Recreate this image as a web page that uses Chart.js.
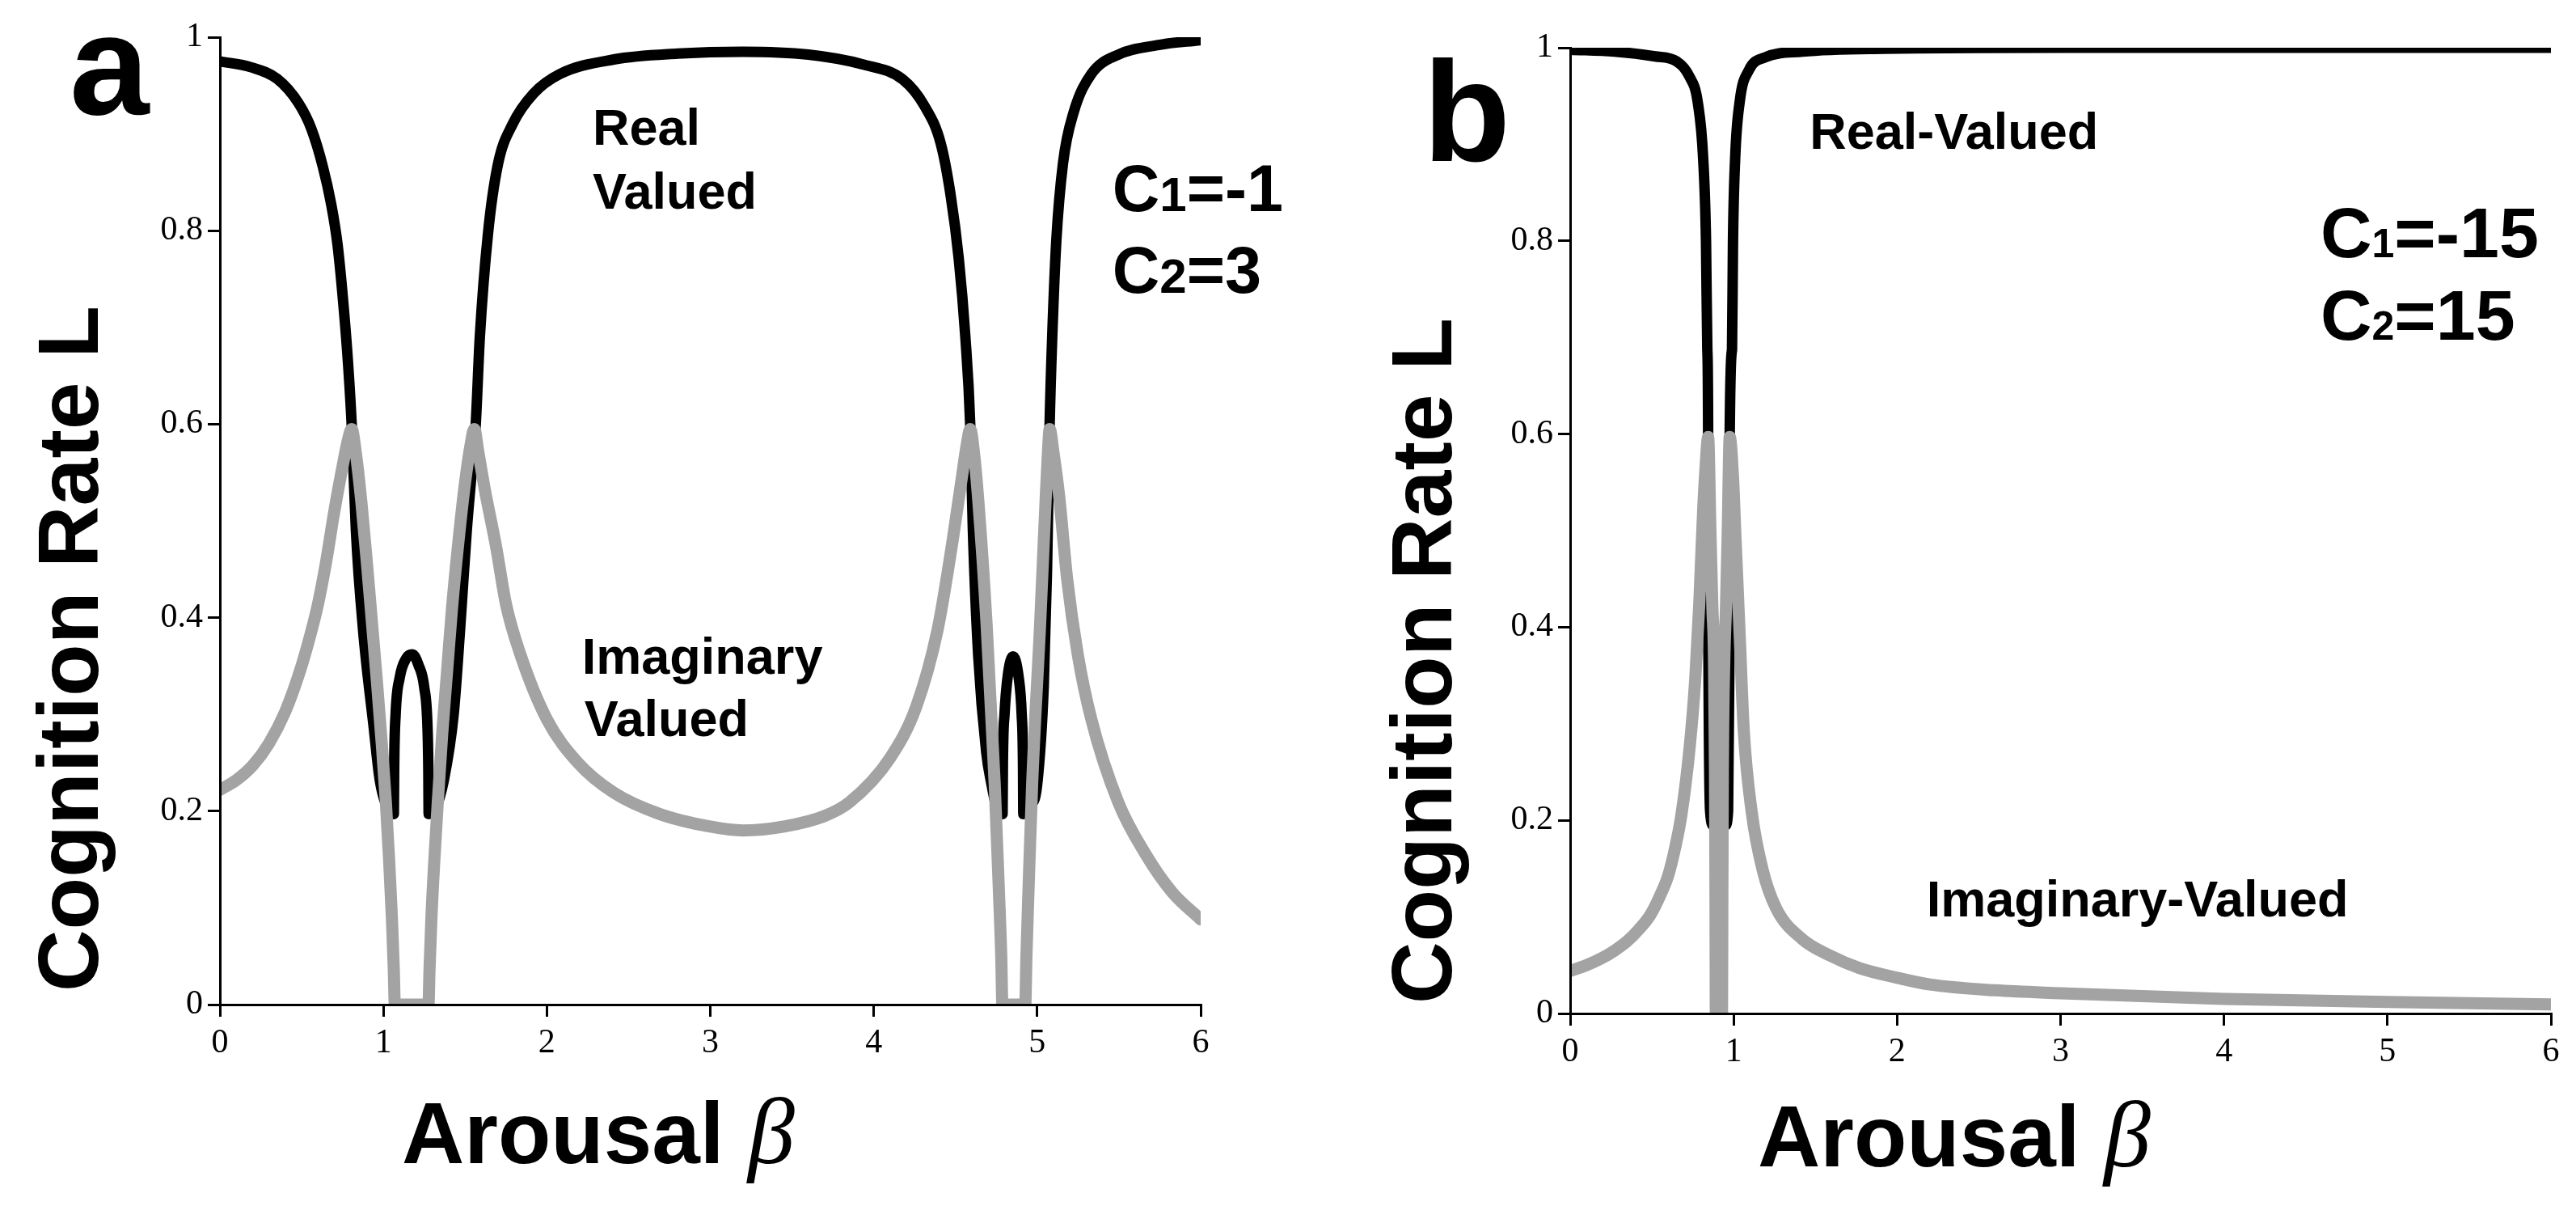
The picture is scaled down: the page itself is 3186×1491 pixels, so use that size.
<!DOCTYPE html>
<html>
<head>
<meta charset="utf-8">
<script src="https://cdn.jsdelivr.net/npm/chart.js@4.4.0/dist/chart.umd.min.js"></script>
<style>
  html, body { margin: 0; padding: 0; background: #fff; }
  body { width: 3186px; height: 1491px; position: relative; overflow: hidden; }
  canvas { position: absolute; top: 0; }
  #panelA { left: 0; }
  #panelB { left: 1593px; }
</style>
</head>
<body>
<canvas id="panelA" width="1593" height="1491"></canvas>
<canvas id="panelB" width="1593" height="1491"></canvas>
<script>
// tick labels
const xTickLabels = ['0', '1', '2', '3', '4', '5', '6'];
const yTickLabels = ['0', '0.2', '0.4', '0.6', '0.8', '1'];

// panel a, C1=-1, C2=3
const betaRealA = [0, 0.19, 0.35, 0.48, 0.56, 0.63, 0.68, 0.72, 0.76, 0.785, 0.806,
  0.832, 0.876, 0.94, 0.978, 1.02, 1.064,
  1.066, 1.075, 1.10, 1.14, 1.177, 1.215, 1.25, 1.27, 1.275, 1.277,
  1.32, 1.37, 1.43, 1.47, 1.51, 1.54, 1.565, 1.59, 1.64, 1.70, 1.79, 1.92, 2.08, 2.41,
  2.8, 3.2, 3.6, 3.93, 4.18, 4.31, 4.41, 4.47, 4.52, 4.56, 4.59,
  4.606, 4.639, 4.688, 4.72, 4.75, 4.788,
  4.79, 4.80, 4.82, 4.852, 4.885, 4.905, 4.913, 4.915,
  4.96, 5.0, 5.04, 5.06, 5.076, 5.092, 5.117, 5.158, 5.224, 5.331, 5.496, 5.743, 6.0];
const realA = [0.975, 0.969, 0.957, 0.932, 0.905, 0.866, 0.828, 0.785, 0.715, 0.66, 0.6,
  0.49, 0.387, 0.288, 0.232, 0.205, 0.197,
  0.245, 0.300, 0.338, 0.358, 0.362, 0.351, 0.328, 0.286, 0.244, 0.197,
  0.203, 0.232, 0.30, 0.39, 0.49, 0.55, 0.6, 0.69, 0.797, 0.868, 0.91, 0.942, 0.962, 0.977,
  0.983, 0.985, 0.982, 0.972, 0.956, 0.929, 0.890, 0.837, 0.771, 0.691, 0.6,
  0.493, 0.361, 0.261, 0.228, 0.205, 0.197,
  0.25, 0.30, 0.34, 0.36, 0.34, 0.30, 0.25, 0.197,
  0.205, 0.228, 0.33, 0.45, 0.6, 0.691, 0.79, 0.87, 0.923, 0.962, 0.982, 0.992, 0.997];

const betaImagA = [0, 0.1, 0.2, 0.3, 0.4, 0.49, 0.55, 0.60, 0.65, 0.70, 0.75, 0.785, 0.806,
  0.83, 0.865, 0.90, 0.93, 0.96, 0.99, 1.015, 1.035, 1.052, 1.064, 1.07,
  1.276, 1.282, 1.294, 1.312, 1.333, 1.36, 1.39, 1.42, 1.46, 1.50, 1.535, 1.556,
  1.58, 1.62, 1.69, 1.75, 1.84, 2.0, 2.19, 2.41, 2.69, 3.0, 3.2, 3.45, 3.70, 3.85,
  4.1, 4.26, 4.39, 4.47, 4.54, 4.57, 4.59,
  4.612, 4.64, 4.69, 4.74, 4.765, 4.78, 4.787,
  4.927, 4.934, 4.947, 4.969, 5.018, 5.051, 5.066, 5.076,
  5.10, 5.134, 5.183, 5.249, 5.331, 5.496, 5.661, 5.826, 6.0];
const imagA = [0.222, 0.232, 0.247, 0.270, 0.303, 0.345, 0.380, 0.414, 0.458, 0.510, 0.556, 0.585, 0.595,
  0.572, 0.52, 0.455, 0.395, 0.335, 0.27, 0.21, 0.15, 0.09, 0.035, 0,
  0, 0.035, 0.09, 0.15, 0.21, 0.28, 0.345, 0.41, 0.48, 0.54, 0.58, 0.595,
  0.572, 0.533, 0.473, 0.414, 0.361, 0.295, 0.250, 0.219, 0.197, 0.184, 0.180, 0.184, 0.195, 0.209,
  0.255, 0.308, 0.387, 0.466, 0.546, 0.58, 0.595,
  0.572, 0.52, 0.394, 0.228, 0.12, 0.05, 0,
  0, 0.05, 0.12, 0.228, 0.394, 0.52, 0.572, 0.595,
  0.57, 0.526, 0.44, 0.361, 0.295, 0.209, 0.156, 0.116, 0.088];

// panel b, C1=-15, C2=15
const betaRealB = [0, 0.27, 0.52, 0.65, 0.73, 0.78, 0.814, 0.831, 0.839, 0.844,
  0.8445, 0.846, 0.856, 0.875, 0.893,
  0.897, 0.902, 0.907, 0.913, 0.919, 0.924, 0.928, 0.932,
  0.95, 0.966, 0.974, 0.9755, 0.976, 0.99, 0.996, 1.009, 1.037, 1.094, 1.193, 1.42, 1.92, 3.0, 6.0];
const realB = [0.998, 0.996, 0.991, 0.986, 0.970, 0.944, 0.884, 0.799, 0.687, 0.6,
  0.45, 0.366, 0.21, 0.195, 0.197,
  0.25, 0.31, 0.345, 0.36, 0.345, 0.31, 0.25, 0.197,
  0.195, 0.21, 0.366, 0.45, 0.6, 0.687, 0.799, 0.884, 0.944, 0.977, 0.990, 0.996, 0.999, 1.0, 1.0];

const betaImagB = [0, 0.1, 0.19, 0.27, 0.35, 0.42, 0.49, 0.55, 0.60, 0.64, 0.68, 0.73, 0.765, 0.79, 0.814, 0.828, 0.844,
  0.858, 0.87, 0.88, 0.886, 0.889, 0.891,
  0.929, 0.931, 0.934, 0.943, 0.953, 0.964, 0.976,
  0.996, 1.012, 1.037, 1.062, 1.111, 1.177, 1.26, 1.42, 1.59, 1.77, 2.0, 2.2, 2.6, 3.0, 4.0, 5.0, 6.0];
const imagB = [0.044, 0.050, 0.057, 0.065, 0.075, 0.087, 0.102, 0.122, 0.143, 0.170, 0.205, 0.274, 0.346, 0.425, 0.523, 0.565, 0.597,
  0.5, 0.42, 0.366, 0.25, 0.12, 0,
  0, 0.12, 0.25, 0.366, 0.42, 0.5, 0.597,
  0.556, 0.49, 0.392, 0.293, 0.208, 0.149, 0.109, 0.077, 0.060, 0.047, 0.037, 0.030, 0.024, 0.021, 0.015, 0.012, 0.0095];

const SANS = '"Liberation Sans", Arial, sans-serif';
const SERIF = '"Liberation Serif", "Times New Roman", serif';
const GRAY = '#a3a3a3';

const pts = (xs, ys) => xs.map((x, i) => ({ x, y: ys[i] }));

const lineStyle = (color, width) => ({
    borderColor: color,
    borderWidth: width,
    showLine: true,
    pointRadius: 0,
    cubicInterpolationMode: 'monotone',
    borderCapStyle: 'round',
    borderJoinStyle: 'round',
});

function drawCoef(ctx, x0, y0, parts, big, small) {
    let x = x0;
    parts.forEach((p, i) => {
        ctx.font = `bold ${i === 1 ? small : big}px ${SANS}`;
        ctx.fillText(p, x, y0);
        x += ctx.measureText(p).width;
    });
}

const panelText = (cfg) => ({
    id: 'panelText',
    afterDraw(chart) {
        const { ctx, scales: { x, y } } = chart;
        ctx.save();
        ctx.fillStyle = '#000';
        ctx.textBaseline = 'alphabetic';
        ctx.textAlign = 'left';

        ctx.font = `bold 177px ${SANS}`;
        ctx.fillText(cfg.letter, cfg.letterPos[0], cfg.letterPos[1]);

        ctx.font = `bold 63px ${SANS}`;
        cfg.notes.forEach(n => {
            ctx.fillText(n.text, x.getPixelForValue(n.beta), y.getPixelForValue(n.L));
        });

        cfg.coefs.forEach(c => {
            drawCoef(ctx, x.getPixelForValue(c.beta), y.getPixelForValue(c.L), c.parts, cfg.coefSize[0], cfg.coefSize[1]);
        });

        // x title: "Arousal β"
        ctx.font = `bold 107px ${SANS}`;
        ctx.fillText('Arousal', cfg.xTitle[0], cfg.xTitle[1]);
        const w = ctx.measureText('Arousal ').width;
        ctx.font = `italic 116px ${SERIF}`;
        ctx.fillText('β', cfg.xTitle[0] + w, cfg.xTitle[1]);

        // y title
        ctx.translate(cfg.yTitle[0], cfg.yTitle[1]);
        ctx.rotate(-Math.PI / 2);
        ctx.textAlign = 'center';
        ctx.font = `bold 106px ${SANS}`;
        ctx.fillText('Cognition Rate L', 0, 0);
        ctx.restore();
    }
});

const axes = (plotLeft, plotBottomSpace) => ({
    x: {
        type: 'linear', min: 0, max: 6,
        afterFit: (s) => { s.height = plotBottomSpace; },
        ticks: {
            stepSize: 1, padding: 8, color: '#000',
            font: { family: SERIF, size: 42 },
            callback: (v) => xTickLabels[v],
        },
        grid: { drawOnChartArea: false, drawTicks: true, tickLength: 15, color: '#000', lineWidth: 3 },
        border: { display: true, color: '#000', width: 3, z: 1 },
    },
    y: {
        type: 'linear', min: 0, max: 1,
        afterFit: (s) => { s.width = plotLeft; },
        ticks: {
            stepSize: 0.2, padding: 6, color: '#000',
            font: { family: SERIF, size: 42 },
            callback: (v) => yTickLabels[Math.round(v * 5)],
        },
        grid: { drawOnChartArea: false, drawTicks: true, tickLength: 15, color: '#000', lineWidth: 3 },
        border: { display: true, color: '#000', width: 3, z: 1 },
    },
});

function makePanel(id, real, imag, layout, text) {
    new Chart(document.getElementById(id), {
        type: 'scatter',
        data: {
            datasets: [
                { label: 'Imaginary', data: imag, ...lineStyle(GRAY, 15) },
                { label: 'Real', data: real, ...lineStyle('#000', 13) },
            ],
        },
        options: {
            responsive: false,
            animation: false,
            devicePixelRatio: 1,
            layout: { padding: layout.padding },
            plugins: { legend: { display: false }, tooltip: { enabled: false } },
            scales: axes(layout.left, layout.bottom),
        },
        plugins: [panelText(text)],
    });
}

makePanel('panelA', pts(betaRealA, realA), pts(betaImagA, imagA),
    { padding: { left: 0, right: 108, top: 46, bottom: 0 }, left: 272, bottom: 249 },
    {
        letter: 'a', letterPos: [86, 141],
        notes: [
            { text: 'Real', beta: 2.28, L: 0.889 },
            { text: 'Valued', beta: 2.28, L: 0.823 },
            { text: 'Imaginary', beta: 2.215, L: 0.342 },
            { text: 'Valued', beta: 2.23, L: 0.278 },
        ],
        coefs: [
            { parts: ['C', '1', '=-1'], beta: 5.46, L: 0.820 },
            { parts: ['C', '2', '=3'], beta: 5.46, L: 0.736 },
        ],
        coefSize: [81, 60],
        xTitle: [497, 1438],
        yTitle: [121, 802],
    });

makePanel('panelB', pts(betaRealB, realB), pts(betaImagB, imagB),
    { padding: { left: 0, right: 31, top: 59, bottom: 0 }, left: 349, bottom: 238 },
    {
        letter: 'b', letterPos: [167, 199],
        notes: [
            { text: 'Real-Valued', beta: 1.465, L: 0.895 },
            { text: 'Imaginary-Valued', beta: 2.18, L: 0.1005 },
        ],
        coefs: [
            { parts: ['C', '1', '=-15'], beta: 4.59, L: 0.783 },
            { parts: ['C', '2', '=15'], beta: 4.59, L: 0.698 },
        ],
        coefSize: [88, 50],
        xTitle: [581, 1442],
        yTitle: [202, 817],
    });
</script>
</body>
</html>
